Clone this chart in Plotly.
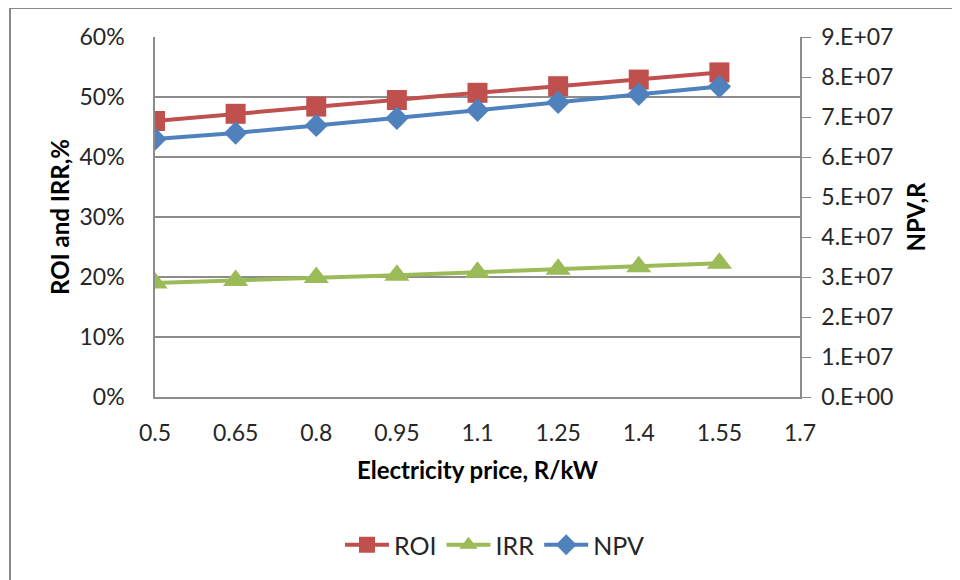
import plotly.graph_objects as go

# ---- data ----
price_labels = ["0.5", "0.65", "0.8", "0.95", "1.1", "1.25", "1.4", "1.55", "1.7"]
price = [0.5, 0.65, 0.8, 0.95, 1.1, 1.25, 1.4, 1.55]
roi = [46.0, 47.2, 48.4, 49.5, 50.7, 51.8, 52.9, 54.1]          # %
irr = [19.0, 19.4, 19.9, 20.3, 20.8, 21.3, 21.7, 22.3]          # %
npv = [6.45e7, 6.60e7, 6.79e7, 6.97e7, 7.17e7, 7.37e7, 7.57e7, 7.76e7]  # R
left_ticks = [0, 10, 20, 30, 40, 50, 60]
left_tick_text = ["0%", "10%", "20%", "30%", "40%", "50%", "60%"]
right_ticks = [0, 1e7, 2e7, 3e7, 4e7, 5e7, 6e7, 7e7, 8e7, 9e7]
right_tick_text = ["0.E+00", "1.E+07", "2.E+07", "3.E+07", "4.E+07",
                   "5.E+07", "6.E+07", "7.E+07", "8.E+07", "9.E+07"]

FONT = "Lato"
GRAY = "#8c8c8c"
TXT = "#262626"

fig = go.Figure()
fig.add_trace(go.Scatter(x=price, y=roi, name="ROI", mode="lines+markers",
                         line=dict(color="#C0504D", width=4),
                         marker=dict(symbol="square", size=20, color="#C0504D")))
fig.add_trace(go.Scatter(x=price, y=irr, name="IRR", mode="lines+markers",
                         line=dict(color="#9BBB59", width=4),
                         marker=dict(symbol="triangle-up", size=22, color="#9BBB59")))
fig.add_trace(go.Scatter(x=price, y=npv, name="NPV", mode="lines+markers", yaxis="y2",
                         line=dict(color="#4F81BD", width=4),
                         marker=dict(symbol="diamond", size=18, color="#4F81BD")))

OFF = 8  # page body margin
# target plot area in screenshot pixels: x 155..800, y 37..397
L, R = 155 - OFF, 960 - (800 - OFF)
T, B = 37 - OFF, 580 - (397 - OFF)
W, H = 960 - L - R, 580 - T - B

def px(xabs):
    return (xabs - OFF - L) / W

def py(yabs):
    return 1 - (yabs - OFF - T) / H

fig.update_layout(
    width=960, height=580,
    margin=dict(l=L, r=R, t=T, b=B),
    paper_bgcolor="white", plot_bgcolor="white",
    font=dict(family=FONT, size=22, color=TXT),
    showlegend=True,
    legend=dict(orientation="h", x=px(495), xanchor="center",
                y=py(545), yanchor="middle",
                font=dict(family=FONT, size=25, color=TXT),
                itemwidth=44, tracegroupgap=0),
    xaxis=dict(range=[0.5, 1.7], tickvals=[float(v) for v in price_labels],
               ticktext=price_labels, showgrid=False, zeroline=False,
               showline=True, linecolor=GRAY, linewidth=2, ticks="",
               tickfont=dict(family=FONT, size=23, color=TXT),
               ticklabelstandoff=14,
               title=dict(text="<b>Electricity price, R/kW</b>", standoff=18,
                          font=dict(family=FONT, size=24, color="black"))),
    yaxis=dict(range=[0, 60], tickvals=left_ticks, ticktext=left_tick_text,
               showgrid=True, gridcolor=GRAY, gridwidth=1.5, zeroline=False,
               showline=True, linecolor=GRAY, linewidth=1.5, ticks="",
               tickfont=dict(family=FONT, size=23, color=TXT),
               ticklabelstandoff=24,
               title=dict(text="<b>ROI and IRR,%</b>", standoff=3,
                          font=dict(family=FONT, size=24, color="black"))),
    yaxis2=dict(range=[0, 9e7], overlaying="y", side="right",
                tickvals=right_ticks, ticktext=right_tick_text,
                showgrid=False, zeroline=False, showline=True, linecolor=GRAY,
                linewidth=1.5, ticks="outside", ticklen=9, tickcolor=GRAY,
                tickfont=dict(family=FONT, size=23, color=TXT),
                ticklabelstandoff=6,
                title=dict(text="<b>NPV,R</b>", standoff=16,
                           font=dict(family=FONT, size=24, color="black"))),
)

# outer chart-area frame
fig.add_shape(type="rect", xref="paper", yref="paper",
              x0=px(10), x1=px(990), y0=py(620), y1=py(8),
              line=dict(color="#8a8a8a", width=2), fillcolor="rgba(0,0,0,0)",
              layer="below")

fig.write_html("out.html")
